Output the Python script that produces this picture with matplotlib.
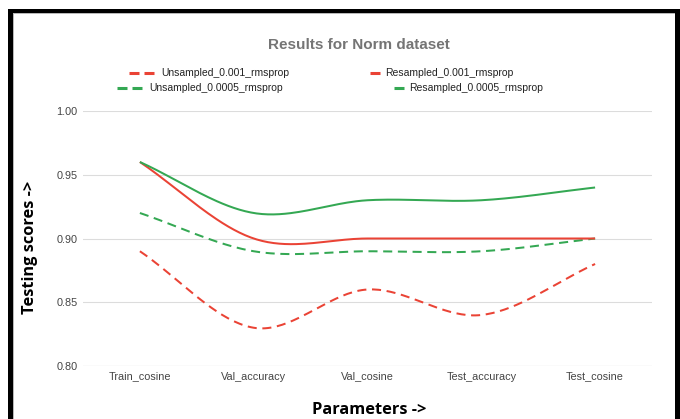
import numpy as np
import matplotlib
matplotlib.use("Agg")
import matplotlib.pyplot as plt
from matplotlib.lines import Line2D
from matplotlib.patches import Rectangle

# ---- data ----
categories = ["Train_cosine", "Val_accuracy", "Val_cosine", "Test_accuracy", "Test_cosine"]
unsampled_0001 = [0.89, 0.83, 0.86, 0.84, 0.88]
resampled_0001 = [0.96, 0.90, 0.90, 0.90, 0.90]
unsampled_00005 = [0.92, 0.89, 0.89, 0.89, 0.90]
resampled_00005 = [0.96, 0.92, 0.93, 0.93, 0.94]
y_ticks = [0.80, 0.85, 0.90, 0.95, 1.00]

RED = "#ea4335"
GREEN = "#34a853"

W, H = 680, 419
fig = plt.figure(figsize=(W / 100, H / 100), dpi=100)
fig.patch.set_facecolor("white")


def px(x, y):
    """Image pixel (from top-left) -> figure fraction."""
    return x / W, 1 - y / H


# axes box in pixels
L, R, T, B = 83, 652, 111, 366
ax = fig.add_axes([L / W, 1 - B / H, (R - L) / W, (B - T) / H])


def smooth(xs, ys, n=40):
    """Cubic Hermite curve through the points (display smoothing)."""
    xs = np.asarray(xs, float)
    ys = np.asarray(ys, float)
    m = np.zeros_like(ys)
    m[1:-1] = (ys[2:] - ys[:-2]) / (xs[2:] - xs[:-2])
    m[0] = (ys[1] - ys[0]) / (xs[1] - xs[0])
    m[-1] = (ys[-1] - ys[-2]) / (xs[-1] - xs[-2])
    ox, oy = [], []
    for i in range(len(xs) - 1):
        h = xs[i + 1] - xs[i]
        t = np.linspace(0, 1, n, endpoint=(i == len(xs) - 2))
        h00 = 2 * t**3 - 3 * t**2 + 1
        h10 = t**3 - 2 * t**2 + t
        h01 = -2 * t**3 + 3 * t**2
        h11 = t**3 - t**2
        ox.append(xs[i] + t * h)
        oy.append(h00 * ys[i] + h10 * h * m[i] + h01 * ys[i + 1] + h11 * h * m[i + 1])
    return np.concatenate(ox), np.concatenate(oy)


x = np.arange(len(categories))
DASH = (0, (4.5, 2.8))
series = [
    (unsampled_0001, RED, DASH),
    (unsampled_00005, GREEN, DASH),
    (resampled_0001, RED, "-"),
    (resampled_00005, GREEN, "-"),
]
for vals, col, ls in series:
    sx, sy = smooth(x, vals)
    ax.plot(sx, sy, color=col, lw=1.45, linestyle=ls, solid_capstyle="butt",
            dash_capstyle="butt", zorder=3)

ax.set_xlim(-0.5, len(categories) - 0.5)
ax.set_ylim(0.80, 1.00)
ax.set_yticks(y_ticks)
ax.set_yticklabels([f"{v:.2f}" for v in y_ticks])
ax.set_xticks(x)
ax.set_xticklabels(categories)
ax.tick_params(axis="both", length=0, labelsize=7.8, labelcolor="#444444",
               labelfontfamily="Liberation Sans")
ax.tick_params(axis="y", pad=4)
ax.tick_params(axis="x", pad=4)
ax.grid(axis="y", color="#dcdcdc", lw=0.8)
ax.set_axisbelow(True)
for s in ax.spines.values():
    s.set_visible(False)
ax.axhline(0.80, color="#cccccc", lw=0.8, zorder=1)

# titles
fig.text(*px(359, 45), "Results for Norm dataset", ha="center", va="center",
         fontsize=11, fontweight="bold", color="#757575", family="Liberation Sans")
fig.text(*px(30, 247), "Testing scores ->", ha="center", va="center", rotation=90,
         fontsize=11.8, fontweight="bold", family="Open Sans", color="black")
fig.text(*px(369, 410), "Parameters ->", ha="center", va="center",
         fontsize=11.8, fontweight="bold", family="Open Sans", color="black")

# legend
def leg_dashed(x0, y, col):
    for a, b in [(x0, x0 + 10), (x0 + 15, x0 + 25)]:
        fig.add_artist(Line2D([a / W, b / W], [1 - y / H] * 2, color=col, lw=2.2,
                              solid_capstyle="butt", transform=fig.transFigure))


def leg_solid(x0, y, col):
    fig.add_artist(Line2D([x0 / W, (x0 + 10) / W], [1 - y / H] * 2, color=col, lw=2.2,
                          solid_capstyle="butt", transform=fig.transFigure))


legend_kw = dict(ha="left", va="center", fontsize=7.5, color="#222222",
                 family="Liberation Sans")
leg_dashed(129, 73, RED)
fig.text(*px(161, 73), "Unsampled_0.001_rmsprop", **legend_kw)
leg_solid(370, 73, RED)
fig.text(*px(385, 73), "Resampled_0.001_rmsprop", **legend_kw)
leg_dashed(117, 88, GREEN)
fig.text(*px(149, 88), "Unsampled_0.0005_rmsprop", **legend_kw)
leg_solid(394, 88, GREEN)
fig.text(*px(409, 88), "Resampled_0.0005_rmsprop", **legend_kw)

# frame around the chart
for (x0, y0, w, h, c) in [
    (8, 9, 672, 4.5, "black"),
    (8, 9, 5, 410, "black"),
    (675, 9, 5, 410, "black"),
    (13, 13.5, 662, 1, "#b8b8b8"),
    (13, 13.5, 1, 406, "#b8b8b8"),
]:
    fig.add_artist(Rectangle((x0 / W, 1 - (y0 + h) / H), w / W, h / H,
                             facecolor=c, edgecolor="none", transform=fig.transFigure))

fig.savefig("out.png", dpi=100, facecolor="white")
